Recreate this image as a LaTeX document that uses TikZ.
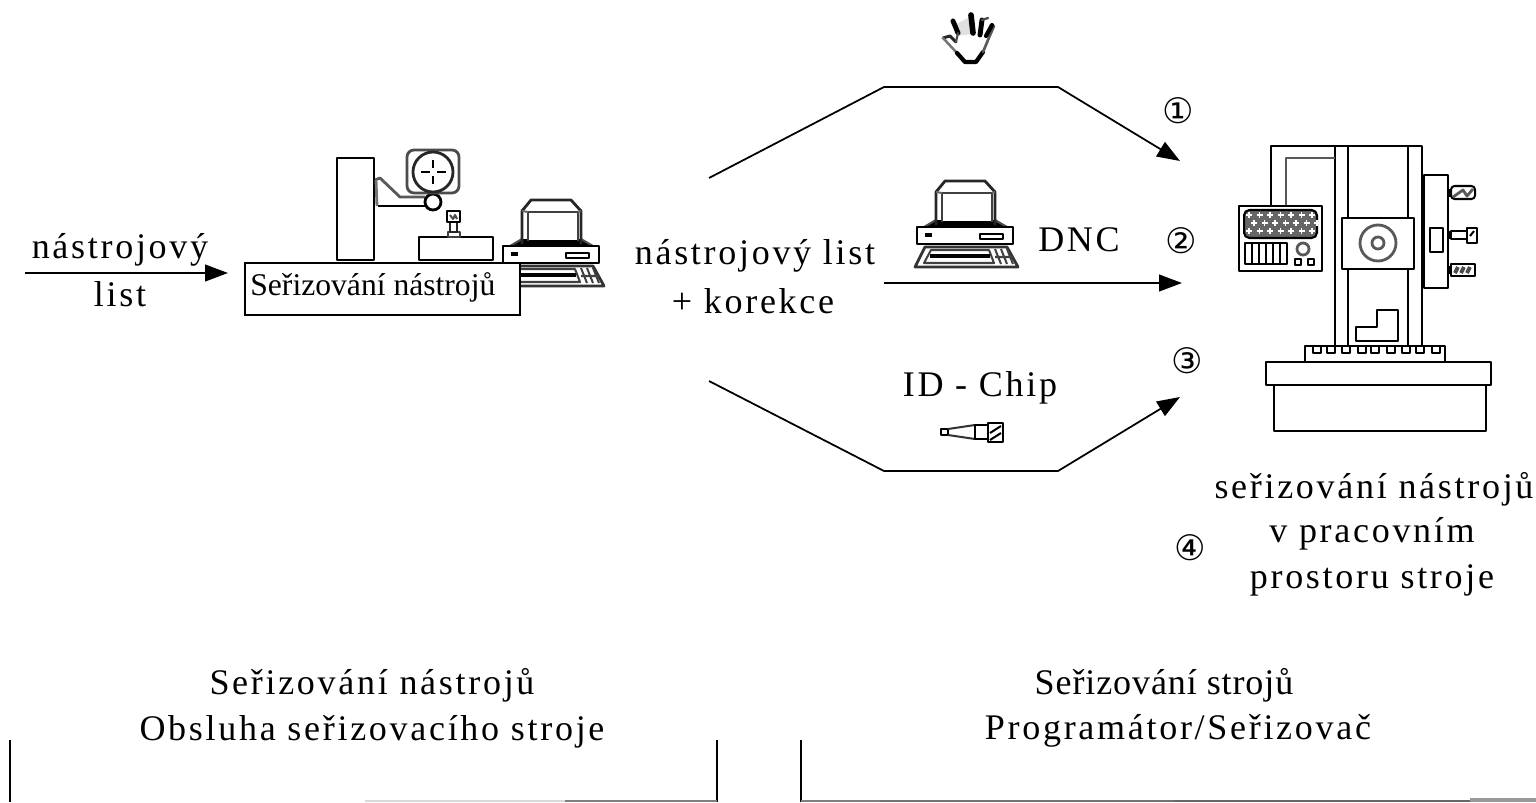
\documentclass[tikz,border=0pt]{standalone}
\usepackage{fontspec}
\setmainfont[LetterSpace=7.5]{Liberation Serif}
\newfontfamily\circfont{DejaVu Sans}
\newfontfamily\boxfont{Liberation Serif}
\newfontfamily\tightfont[LetterSpace=2.5]{Liberation Serif}
\usetikzlibrary{arrows.meta}
\tikzset{
  x=0.02cm,y=-0.02cm,
  ln/.style={line width=1.6pt,black,line join=round},
  thin ln/.style={line width=1.15pt,black,line join=round},
  flow/.style={line width=1pt,black,-{Triangle[length=13pt,width=9.5pt]}},
  lbl/.style={font=\fontsize{20.5}{23}\selectfont,inner sep=0pt,anchor=center,yshift=-0.04cm},
  num/.style={font=\circfont\fontsize{20}{22}\selectfont,inner sep=0pt,anchor=center},
  edge line/.style={line width=0.9pt,black},
}
\newcommand{\printer}[2]{%
\begin{scope}[shift={(#1,#2)}]
  \fill[black] (7,48) -- (19,41) -- (78,41) -- (90,48) -- cycle;
  \draw[thin ln,black!70] (7,48) -- (19,41) (90,48) -- (78,41);
  \draw[ln,black!85] (19,46) -- (19,13) -- (28,2) -- (68,2) -- (78,13) -- (78,46);
  \draw[thin ln,black!75] (25,43) -- (25,14) -- (75,14) -- (75,43);
  \draw[thin ln,black!60] (19,13) -- (25,14) (78,13) -- (75,14);
  \fill[white] (26,15) rectangle (74,42);
  \draw[ln,fill=white] (0,48) rectangle (96,65);
  \fill[black] (8,54) rectangle (15,58);
  \draw[thin ln] (63,55) rectangle (86,60);
  \draw[ln,black!80] (8,68) -- (-2,88) -- (101,88) -- (90,68) -- cycle;
  \draw[thin ln,black!75] (14,71) -- (7,84) -- (77,84) -- (72,71) -- cycle;
  \fill[black] (13,75) rectangle (73,79);
  \draw[thin ln,black!75] (78,70) -- (84,85) (84,70) -- (90,85) (90,70) -- (96,85) (78,78) -- (96,78);
\end{scope}}
\begin{document}
\begin{tikzpicture}
\useasboundingbox (0,0) rectangle (1536,802);
\fill[white] (0,0) rectangle (1536,802);

% --- tool-setting machine
\draw[ln] (337,158) rectangle (374,260);
\draw[ln,black!65] (375,180) -- (380,178) -- (400,197) -- (425,197);
\draw[ln] (378,206) -- (425,206);
\draw[ln,black!55] (376,180) -- (377,206);
\draw[ln,fill=white] (433,202) circle (8);
\draw[ln,black!70,fill=white,rounded corners=4pt] (407,150) rectangle (459,193);
\draw[ln,black!85] (433,172) circle (20);
\draw[thin ln] (433,160) -- (433,168) (433,176) -- (433,184) (421,172) -- (430,172) (437,172) -- (446,172);
\draw[ln] (419,237) rectangle (493,260);
\draw[thin ln,black!75,fill=white] (448,232) rectangle (460,237);
\draw[ln,black!85] (450,222) rectangle (457,232);
\draw[ln,fill=white] (447,211) rectangle (460,222);
\draw[thin ln,black!70] (450,215) -- (453,219) -- (455,215) -- (457,219);

\printer{503}{198}

\node[draw,line width=1.2pt,fill=white,minimum width=275*0.02cm,minimum height=52*0.02cm,inner sep=0pt] (setbox) at (382.5,289) {};
\node[font=\boxfont\fontsize{18}{20}\selectfont,inner sep=0pt,anchor=west] (settxt) at (250,287) {Seřizování nástrojů};

% --- left input
\coordinate (inL) at (25,273);
\coordinate (inR) at (228,273);
\draw[flow] (inL) -- (inR);
\node[lbl] (a1) at (120,248) {nástrojový};
\node[lbl] (a2) at (120,292) {list};

% --- centre text
\node[lbl] (b1) at (755,254) {nástrojový list};
\node[lbl] (b2) at (753,299) {+ korekce};

% --- flows
\coordinate (t0) at (709,178);
\coordinate (t1) at (884,87);
\coordinate (t2) at (1058,87);
\coordinate (t3) at (1180,161);
\coordinate (m0) at (884,283);
\coordinate (m1) at (1182,283);
\coordinate (d0) at (709,381);
\coordinate (d1) at (884,471);
\coordinate (d2) at (1058,471);
\coordinate (d3) at (1180,397);
\draw[flow,line join=round] (t0) -- (t1) -- (t2) -- (t3);
\draw[flow] (m0) -- (m1);
\draw[flow,line join=round] (d0) -- (d1) -- (d2) -- (d3);

% --- hand
\begin{scope}[line cap=round,line join=round]
\fill[black!12] (956,24) -- (970,17) -- (972,34) -- (958,36) -- cycle;
\draw[line width=1.7pt,black!85] (943,38) -- (950,36) -- (956,42);
\draw[line width=1.4pt,black!55] (943,38) -- (957,53);
\draw[line width=2.4pt,black] (957,53) -- (965,62) -- (976,62) -- (983,52);
\draw[line width=1.5pt,black!65] (983,52) -- (988,40) -- (994,26);
\draw[line width=2.8pt,black] (953,21) -- (958,33);
\draw[line width=3.2pt,black] (971,15) -- (973,33);
\draw[line width=2.8pt,black] (982,20) -- (980,35);
\draw[line width=2.4pt,black] (992,25) -- (986,36);
\draw[line width=1.3pt,black!70] (982,20) -- (988,18);
\draw[line width=1.2pt,black!70] (958,33) -- (956,42);
\end{scope}

% --- DNC computer
\printer{917}{179}
\node[lbl] (dnc) at (1079,238) {DNC};

% --- ID chip
\node[lbl] (chip) at (980,386) {ID - Chip};
\draw[thin ln] (941,429) rectangle (948,435);
\draw[thin ln,black!80] (948,429) -- (975,425) (948,435) -- (975,439);
\draw[thin ln] (975,425) rectangle (988,439);
\draw[ln,fill=white] (988,423) rectangle (1003,442);
\draw[thin ln] (990,433) -- (1001,426) (990,440) -- (1001,433);

% --- numbers
\node[num] (n1) at (1178,111) {①};
\node[num] (n2) at (1181,241) {②};
\node[num] (n3) at (1187,361) {③};
\node[num] (n4) at (1190,548) {④};

% --- machining centre
\draw[ln] (1335,346) -- (1335,146) -- (1422,146) -- (1422,346);
\draw[ln] (1348,146) -- (1348,346) (1408,146) -- (1408,346);
\draw[ln] (1271,206) -- (1271,146) -- (1335,146);
\draw[ln,black!65] (1286,206) -- (1286,158) -- (1335,158);
\draw[ln,fill=white] (1239,206) rectangle (1322,271);
\draw[thin ln,fill=black!60,rounded corners=3pt] (1244,210) rectangle (1317,238);
\foreach \r/\o in {215/0,223/5,231/0}{
  \foreach \c in {0,...,6}{
    \draw[white,line width=1.1pt] ({1249+\o+\c*10.5-3},\r) -- ({1249+\o+\c*10.5+3},\r);
    \draw[white,line width=1.1pt] ({1249+\o+\c*10.5},{\r-3}) -- ({1249+\o+\c*10.5},{\r+3});
  }}
\draw[thin ln] (1245,243) rectangle (1287,264);
\foreach \c in {1252,1259,1266,1273,1280}{\draw[thin ln] (\c,243) -- (\c,264);}
\draw[ln,black!65] (1303,249) circle (6);
\draw[thin ln] (1295,259) rectangle (1301,265);
\draw[thin ln] (1308,259) rectangle (1314,265);
\draw[ln,fill=white] (1342,218) rectangle (1414,269);
\draw[ln,black!65] (1378,243) circle (18);
\draw[ln,black!65] (1378,243) circle (6);
\draw[ln,fill=white] (1424,175) rectangle (1448,288);
\draw[line width=2.8pt,black] (1423,176) -- (1423,287);
\draw[ln] (1430,228) rectangle (1443,252);
\draw[thin ln,fill=white,rounded corners=2pt] (1451,186) rectangle (1475,199);
\draw[ln,black!65] (1453,197) -- (1463,190) -- (1467,196) -- (1473,189);
\fill[black] (1448,189) rectangle (1451,197);
\fill[black] (1448,231) rectangle (1451,239);
\draw[thin ln] (1451,231) rectangle (1467,239);
\draw[ln,fill=white] (1467,228) rectangle (1477,243);
\draw[thin ln] (1470,236) -- (1474,231);
\fill[black] (1448,266) rectangle (1451,274);
\draw[thin ln,fill=white] (1451,264) rectangle (1475,276);
\draw[line width=2.2pt,black!70] (1455,273) -- (1458,267) (1461,273) -- (1464,267) (1467,273) -- (1470,267);
\draw[ln] (1356,341) -- (1356,327) -- (1377,327) -- (1377,310) -- (1398,310) -- (1398,341) -- cycle;
\draw[ln] (1305,362) -- (1305,346) -- (1445,346) -- (1445,362);
\foreach \c in {1317,1331,1346,1362,1375,1391,1406,1420,1436}{\draw[thin ln] ({\c-4},346) rectangle ({\c+4},353);}
\draw[ln,fill=white] (1266,362) rectangle (1491,385);
\draw[ln] (1274,385) rectangle (1486,431);

% --- machine caption
\node[lbl] (c1) at (1374,487) {seřizování nástrojů};
\node[lbl] (c2) at (1372,532) {v pracovním};
\node[lbl] (c3) at (1372,578) {prostoru stroje};

% --- bottom captions
\node[lbl] (l1) at (372,683) {Seřizování nástrojů};
\node[lbl] (l2) at (372,730) {Obsluha seřizovacího stroje};
\node[lbl,font=\tightfont\fontsize{20.5}{23}\selectfont] (r1) at (1164,683) {Seřizování strojů};
\node[lbl] (r2) at (1178,729) {Programátor/Seřizovač};

% --- bottom brackets
\coordinate (p1) at (10,740); \coordinate (p1b) at (10,802);
\coordinate (p2) at (717,740); \coordinate (p2b) at (717,802);
\coordinate (p3) at (801,740); \coordinate (p3b) at (801,802);
\draw[edge line] (p1) -- (p1b);
\draw[edge line] (p2) -- (p2b);
\draw[edge line] (p3) -- (p3b);
\fill[black!15] (365,800) rectangle (565,802);
\fill[black!50] (565,800) rectangle (717,802);
\fill[black!50] (801,800) rectangle (880,802);
\fill[black!55] (880,800) rectangle (1175,802);
\fill[black!60] (1175,800) rectangle (1470,802);
\fill[black!40] (1470,798) rectangle (1536,802);
\end{tikzpicture}
\end{document}
